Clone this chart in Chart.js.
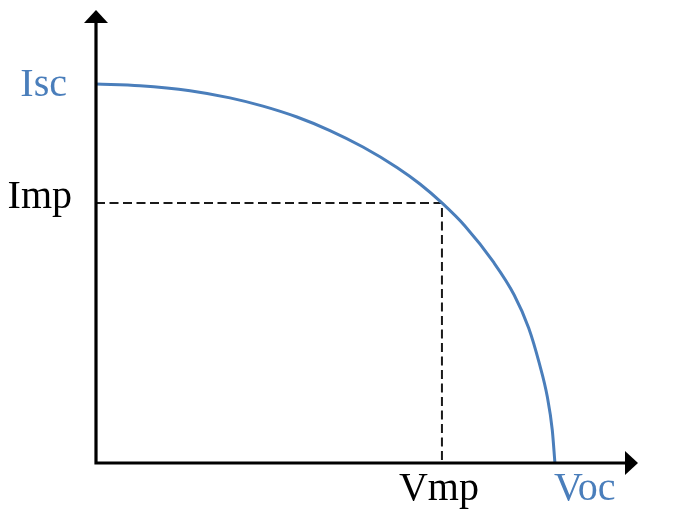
<!DOCTYPE html>
<html>
<head>
<meta charset="utf-8">
<script src="https://cdn.jsdelivr.net/npm/chart.js@4/dist/chart.umd.min.js"></script>
<style>
html,body{margin:0;padding:0;background:#fff;}
#wrap{width:677px;height:526px;position:relative;}
</style>
</head>
<body>
<div id="wrap"><canvas id="c"></canvas></div>
<script>
// I-V curve (normalized units: Voc = 100, Isc = 100)
const voltage = [0, 9.59, 20.48, 29.19, 36.38, 43.79, 50.98, 58.17, 65.58, 70.59, 75.38, 80.39, 86.59, 91.12, 94.28, 96.57, 98.35, 99.42, 100];
const current = [100, 99.54, 98.22, 96.32, 94.14, 91.27, 87.70, 83.35, 77.96, 73.59, 68.60, 62.53, 53.03, 44.33, 35.62, 26.39, 17.41, 8.71, 0];
const Isc = 100, Imp = 68.6, Vmp = 75.38, Voc = 100;
const xMax = 118.1, yMax = 119.5;
const yLabels = ["Isc", "Imp"];
const xLabels = ["Vmp", "Voc"];

const blue = "#4a7ebb";
const font = "40px 'Liberation Serif', 'DejaVu Serif', serif";

const deco = {
  id: 'deco',
  beforeDatasetsDraw(chart) {
    const ctx = chart.ctx, x = chart.scales.x, y = chart.scales.y;
    const x0 = x.getPixelForValue(0), y0 = y.getPixelForValue(0);
    const xm = x.getPixelForValue(Vmp), ym = y.getPixelForValue(Imp);
    ctx.save();
    ctx.strokeStyle = "#1a1a1a";
    ctx.lineWidth = 2;
    ctx.setLineDash([9, 4.5]);
    ctx.beginPath();
    ctx.moveTo(x0, ym); ctx.lineTo(xm, ym); ctx.lineTo(xm, y0);
    ctx.stroke();
    ctx.restore();
  },
  afterDatasetsDraw(chart) {
    const ctx = chart.ctx, x = chart.scales.x, y = chart.scales.y;
    const x0 = x.getPixelForValue(0), y0 = y.getPixelForValue(0);
    const xEnd = x.getPixelForValue(xMax), yEnd = y.getPixelForValue(yMax);
    ctx.save();
    ctx.strokeStyle = "#000"; ctx.fillStyle = "#000";
    ctx.lineWidth = 3.2;
    ctx.beginPath();
    ctx.moveTo(x0, y0 + 1.6); ctx.lineTo(x0, yEnd + 10);
    ctx.moveTo(x0 - 1.6, y0); ctx.lineTo(xEnd - 10, y0);
    ctx.stroke();
    // arrowheads
    ctx.beginPath();
    ctx.moveTo(x0, yEnd); ctx.lineTo(x0 - 12, yEnd + 13); ctx.lineTo(x0 + 12, yEnd + 13); ctx.closePath();
    ctx.fill();
    ctx.beginPath();
    ctx.moveTo(xEnd, y0); ctx.lineTo(xEnd - 13, y0 - 12); ctx.lineTo(xEnd - 13, y0 + 12); ctx.closePath();
    ctx.fill();
    // labels
    ctx.font = font;
    ctx.textBaseline = "alphabetic";
    ctx.textAlign = "right";
    ctx.fillStyle = blue;
    ctx.fillText(yLabels[0], x0 - 29, y.getPixelForValue(Isc) + 12);
    ctx.fillStyle = "#000";
    ctx.fillText(yLabels[1], x0 - 24, y.getPixelForValue(Imp) + 5);
    ctx.textAlign = "center";
    ctx.fillText(xLabels[0], x.getPixelForValue(Vmp) - 3, y0 + 37);
    ctx.textAlign = "left";
    ctx.fillStyle = blue;
    ctx.fillText(xLabels[1], x.getPixelForValue(Voc) - 1, y0 + 37);
    ctx.restore();
  }
};

new Chart(document.getElementById('c'), {
  type: 'line',
  data: {
    datasets: [{
      data: voltage.map((v, i) => ({x: v, y: current[i]})),
      borderColor: blue,
      borderWidth: 3,
      pointRadius: 0,
      cubicInterpolationMode: 'monotone',
      fill: false,
      clip: false
    }]
  },
  options: {
    responsive: true,
    maintainAspectRatio: false,
    animation: false,
    layout: {padding: {left: 96, top: 10, right: 39, bottom: 63}},
    plugins: {legend: {display: false}, tooltip: {enabled: false}},
    scales: {
      x: {type: 'linear', min: 0, max: xMax, display: false},
      y: {type: 'linear', min: 0, max: yMax, display: false}
    }
  },
  plugins: [deco]
});
</script>
</body>
</html>
